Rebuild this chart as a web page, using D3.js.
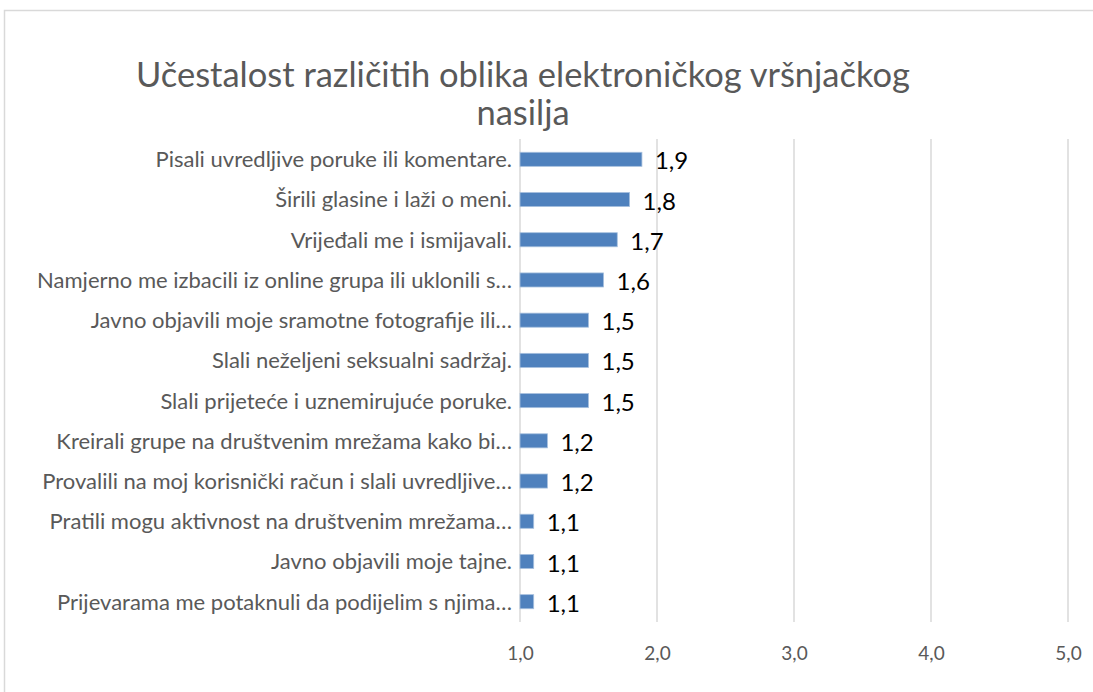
<!DOCTYPE html>
<html>
<head>
<meta charset="utf-8">
<script src="https://cdn.jsdelivr.net/npm/d3@7"></script>
<style>
  body { margin: 0; background: #fff; }
  svg { display: block; font-family: Lato, "Open Sans", sans-serif; }
</style>
</head>
<body>
<svg id="chart"></svg>
<script>
const width = 1093;
const height = 692;

const titleLines = ["Učestalost različitih oblika elektroničkog vršnjačkog", "nasilja"];

const categories = [
  "Pisali uvredljive poruke ili komentare.",
  "Širili glasine i laži o meni.",
  "Vrijeđali me i ismijavali.",
  "Namjerno me izbacili iz online grupa ili uklonili s…",
  "Javno objavili moje sramotne fotografije ili…",
  "Slali neželjeni seksualni sadržaj.",
  "Slali prijeteće i uznemirujuće poruke.",
  "Kreirali grupe na društvenim mrežama kako bi…",
  "Provalili na moj korisnički račun i slali uvredljive…",
  "Pratili mogu aktivnost na društvenim mrežama…",
  "Javno objavili moje tajne.",
  "Prijevarama me potaknuli da podijelim s njima…"
];

const values = [1.89, 1.8, 1.71, 1.61, 1.5, 1.5, 1.5, 1.2, 1.2, 1.1, 1.1, 1.1];

const xTicks = [1, 2, 3, 4, 5];

const margin = { top: 139, right: 25, bottom: 70, left: 520 };

const svg = d3.select("#chart")
  .attr("width", width)
  .attr("height", height);

// chart area border (only top and left are inside the picture)
svg.append("rect")
  .attr("x", 4.5)
  .attr("y", 10.5)
  .attr("width", 1200)
  .attr("height", 800)
  .attr("fill", "none")
  .attr("stroke", "#d9d9d9")
  .attr("stroke-width", 1.5);

const x = d3.scaleLinear()
  .domain([1, 5])
  .range([margin.left, width - margin.right]);

const y = d3.scaleBand()
  .domain(categories)
  .range([margin.top, height - margin.bottom])
  .paddingInner(0.65)
  .paddingOuter(0.33);

// title
svg.append("g")
  .selectAll("text")
  .data(titleLines)
  .join("text")
  .attr("x", 523)
  .attr("y", (d, i) => 87 + i * 38)
  .attr("text-anchor", "middle")
  .attr("fill", "#595959")
  .attr("font-size", 34.5)
  .text(d => d);

// gridlines
svg.append("g")
  .selectAll("line")
  .data(xTicks)
  .join("line")
  .attr("x1", d => x(d))
  .attr("x2", d => x(d))
  .attr("y1", margin.top)
  .attr("y2", height - margin.bottom)
  .attr("stroke", "#d9d9d9")
  .attr("stroke-width", 1.5);

// x tick labels
const xAxis = svg.append("g")
  .attr("transform", `translate(0,${height - margin.bottom})`)
  .call(d3.axisBottom(x)
    .tickValues(xTicks)
    .tickSize(0)
    .tickPadding(25)
    .tickFormat(d => d3.format(".1f")(d).replace(".", ",")));
xAxis.select(".domain").remove();
xAxis.selectAll("text")
  .attr("fill", "#595959")
  .attr("font-size", 19)
  .attr("font-family", "Lato, 'Open Sans', sans-serif");

// category labels
svg.append("g")
  .selectAll("text")
  .data(categories)
  .join("text")
  .attr("x", margin.left - 8)
  .attr("y", d => y(d) + y.bandwidth() / 2)
  .attr("dy", "0.36em")
  .attr("text-anchor", "end")
  .attr("fill", "#595959")
  .attr("font-size", 22)
  .text(d => d);

// bars
svg.append("g")
  .selectAll("rect")
  .data(values)
  .join("rect")
  .attr("x", x(1))
  .attr("y", (d, i) => y(categories[i]))
  .attr("width", d => x(d) - x(1))
  .attr("height", y.bandwidth())
  .attr("fill", "#4f81bd")
  .attr("stroke", "#a7c0de")
  .attr("stroke-width", 0.8);

// value labels
svg.append("g")
  .selectAll("text")
  .data(values)
  .join("text")
  .attr("x", d => x(d) + 13)
  .attr("y", (d, i) => y(categories[i]) + y.bandwidth() / 2)
  .attr("dy", "0.42em")
  .attr("fill", "#000")
  .attr("font-size", 24)
  .text(d => d3.format(".1f")(d).replace(".", ","));
</script>
</body>
</html>
